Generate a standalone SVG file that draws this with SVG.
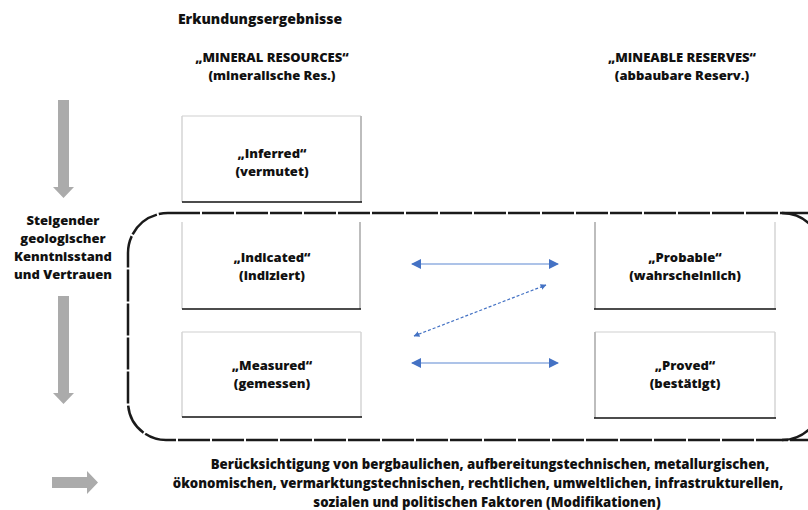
<svg xmlns="http://www.w3.org/2000/svg" width="808" height="510" viewBox="0 0 808 510">
<defs>
<style>
text{font-family:"Open Sans","Liberation Sans",sans-serif;font-weight:800;fill:#111;text-anchor:middle}
.t{font-size:14px}
.n{font-size:13px}
.b{font-size:13.2px}
.side{fill:none;stroke:#d4d4d4;stroke-width:1.5}
.rside{fill:none;stroke:#bdbdbd;stroke-width:2}
.bot{stroke:#111;stroke-width:1.5}
.top{stroke:#cfcfcf;stroke-width:1}
.g{fill:#ababab}
.bl{stroke:#adc3e8;stroke-width:2;fill:none}
</style>
<marker id="ah" viewBox="0 0 10 10" refX="9" refY="5" markerWidth="5" markerHeight="5" orient="auto-start-reverse">
<path d="M0,0 L10,5 L0,10 z" fill="#4472c4"/>
</marker>
</defs>
<rect width="808" height="510" fill="#fff"/>

<text class="t" x="260" y="24">Erkundungsergebnisse</text>
<text class="n" x="272" y="62">„MINERAL RESOURCES“</text>
<text class="n" x="272" y="80">(mineralische Res.)</text>
<text class="n" x="682" y="62">„MINEABLE RESERVES“</text>
<text class="n" x="682" y="80">(abbaubare Reserv.)</text>

<g id="reserves-frame">
<path d="M168,213 H822 M822,440 H166 A38,38 0 0 1 128,402 V253 A40,40 0 0 1 168,213" fill="none" stroke="#1a1a1a" stroke-width="2.5" stroke-dasharray="32 2"/>
<path d="M782,213 A40,40 0 0 1 822,253 V400 A40,40 0 0 1 782,440" fill="none" stroke="#1a1a1a" stroke-width="2.5"/>
</g>

<g id="inferred">
<line class="top" x1="182" y1="116" x2="361" y2="116"/>
<line class="side" x1="182" y1="116" x2="182" y2="202"/>
<line class="rside" x1="361" y1="116" x2="361" y2="202"/>
<line class="bot" x1="182" y1="202" x2="362" y2="202"/>
<text class="n" x="272" y="158">„Inferred“</text>
<text class="n" x="272" y="176">(vermutet)</text>
</g>

<g id="indicated">
<line class="side" x1="182" y1="222" x2="182" y2="309"/>
<line class="rside" x1="360" y1="222" x2="360" y2="309"/>
<line class="bot" x1="182" y1="309" x2="361" y2="309"/>
<text class="n" x="272" y="262">„Indicated“</text>
<text class="n" x="272" y="280">(indiziert)</text>
</g>

<g id="measured">
<line class="top" x1="182" y1="332" x2="361" y2="332"/>
<line class="side" x1="182" y1="332" x2="182" y2="417"/>
<line class="side" x1="361" y1="332" x2="361" y2="417"/>
<line class="bot" x1="182" y1="417" x2="362" y2="417"/>
<text class="n" x="272" y="370">„Measured“</text>
<text class="n" x="272" y="388">(gemessen)</text>
</g>

<g id="probable">
<line class="rside" x1="595" y1="222" x2="595" y2="309"/>
<line class="side" x1="775" y1="222" x2="775" y2="309"/>
<line class="bot" x1="594" y1="309" x2="776" y2="309"/>
<text class="n" x="685" y="262">„Probable“</text>
<text class="n" x="685" y="280">(wahrscheinlich)</text>
</g>

<g id="proved">
<line class="top" x1="595" y1="332" x2="775" y2="332"/>
<line class="rside" x1="595" y1="332" x2="595" y2="418"/>
<line class="side" x1="775" y1="332" x2="775" y2="418"/>
<line class="bot" x1="594" y1="418" x2="776" y2="418"/>
<text class="n" x="685" y="370">„Proved“</text>
<text class="n" x="685" y="388">(bestätigt)</text>
</g>

<g id="left-label">
<text class="n" x="63" y="225">Steigender</text>
<text class="n" x="63" y="243">geologischer</text>
<text class="n" x="63" y="261">Kenntnisstand</text>
<text class="n" x="63" y="279">und Vertrauen</text>
</g>

<g id="gray-arrows">
<path class="g" d="M58,100 H69 V187 H74 L63.5,198 L53,187 H58 Z"/>
<path class="g" d="M58,296 H69 V393 H74 L63.5,404 L53,393 H58 Z"/>
<path class="g" d="M52,477 H87 V471 L98,482.5 L87,494 V488 H52 Z"/>
</g>

<g id="connectors">
<line class="bl" x1="412" y1="264" x2="558" y2="264" marker-start="url(#ah)" marker-end="url(#ah)"/>
<line class="bl" x1="412" y1="363" x2="558" y2="363" marker-start="url(#ah)" marker-end="url(#ah)"/>
<line x1="414" y1="336" x2="546" y2="285" stroke="#4472c4" stroke-width="1.2" stroke-dasharray="3 2" marker-start="url(#ah)" marker-end="url(#ah)"/>
</g>

<g id="bottom-label">
<text class="b" x="490" y="469">Berücksichtigung von bergbaulichen, aufbereitungstechnischen, metallurgischen,</text>
<text class="b" x="478" y="488">ökonomischen, vermarktungstechnischen, rechtlichen, umweltlichen, infrastrukturellen,</text>
<text class="b" x="487" y="507">sozialen und politischen Faktoren (Modifikationen)</text>
</g>
</svg>
